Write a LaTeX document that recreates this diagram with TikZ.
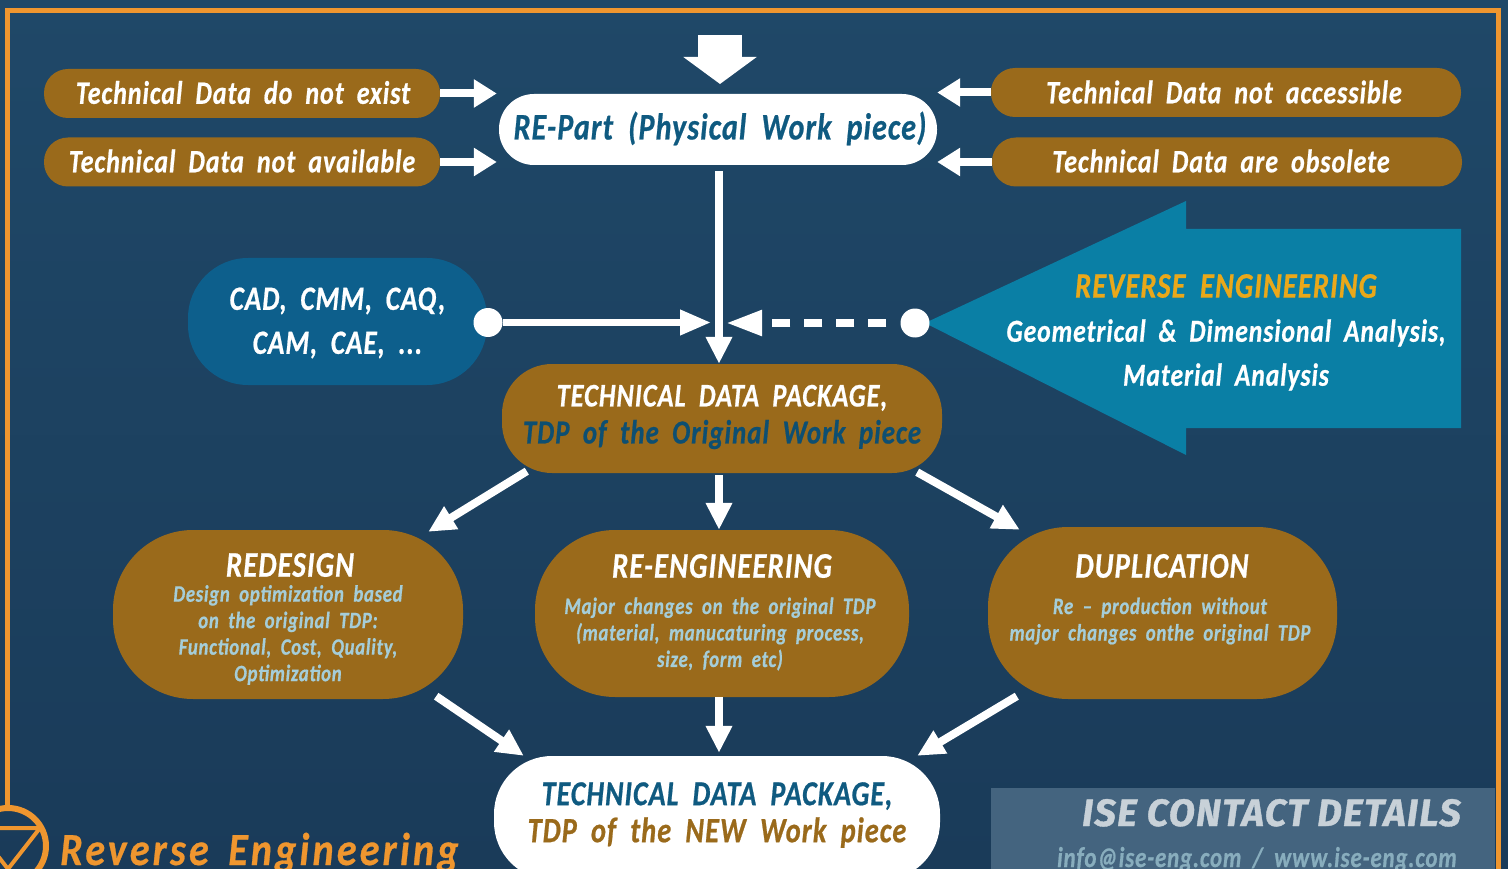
\documentclass[tikz,border=0pt]{standalone}
\usepackage{fontspec}
\usetikzlibrary{arrows.meta,shapes.geometric}
\newfontfamily\dgfont[LetterSpace=3,WordSpace=1.9,FakeStretch=0.8,FakeBold=0.6]{Carlito}
\newfontfamily\brandfont[LetterSpace=7,WordSpace=1.6,FakeStretch=0.87,FakeBold=0.6]{Carlito}
\newfontfamily\headfont[LetterSpace=3.5,FakeBold=1]{Fira Sans}
\newcommand{\dgf}[1]{\fontsize{#1}{#1}\selectfont\dgfont\bfseries\itshape}
\definecolor{bgtop}{HTML}{1F4868}
\definecolor{bgmid}{HTML}{1C3F5E}
\definecolor{bgbot}{HTML}{1A3B59}
\definecolor{brownbox}{HTML}{9A6A1B}
\definecolor{navytxt}{HTML}{0F5A80}
\definecolor{tealtxt}{HTML}{0D4F72}
\definecolor{subtxt}{HTML}{A5CDD8}
\definecolor{framec}{HTML}{EF962F}
\definecolor{yellowt}{HTML}{E9A81A}
\definecolor{cadc}{HTML}{0D5F8C}
\definecolor{bigarrow}{HTML}{0A7FA5}
\definecolor{contactc}{HTML}{44647F}
\tikzset{
  pill/.style={fill=brownbox,inner sep=0pt,text=white,align=center},
  smallpill/.style={pill,minimum height=49pt,rounded corners=24pt},
  pilltext/.style={text=white,inner sep=0pt,font=\dgf{32.5}},
  bigpill/.style={pill,minimum width=350pt,rounded corners=80pt},
  titletext/.style={text=white,font=\dgf{36},inner sep=0pt},
  subtext/.style={text=subtxt,font=\dgf{23.5},align=center,inner sep=0pt},
  fatarrow/.style={draw=white,line width=8pt,-{Triangle[width=25pt,length=27pt]}},
  sidearrow/.style={draw=white,line width=8pt,-{Triangle[width=27pt,length=23pt]},shorten >=2pt},
  dotnode/.style={circle,fill=white,minimum size=29pt,inner sep=0pt},
}
\begin{document}
\begin{tikzpicture}[x=1pt,y=-1pt]
\path[use as bounding box,clip] (0,0) rectangle (1508,869);
\fill[top color=bgtop,middle color=bgmid,bottom color=bgbot] (0,0) rectangle (1508,869);
% frame
\draw[framec,line width=5pt] (7,810) -- (7,11) -- (1498,11) -- (1498,869);
% logo
\draw[framec,line width=6pt] (8,846) circle (38);
\draw[framec,line width=4pt,line join=round] (-24,828) -- (40,828) -- (8,869) -- cycle;
\node[anchor=base west,inner sep=0pt,text=framec,font=\fontsize{46}{46}\selectfont\brandfont\bfseries\itshape] (title) at (60,865) {Reverse Engineering};
% contact box
\fill[contactc] (991,788) rectangle (1495,869);
\node[anchor=base east,inner sep=0pt,text=white!76!bgmid,font=\fontsize{38}{38}\selectfont\headfont\bfseries\itshape] (contact) at (1461,826) {ISE CONTACT DETAILS};
\node[anchor=base east,inner sep=0pt,text=subtxt!70!contactc,font=\dgf{28.6}] (mail) at (1457,867) {info@ise-eng.com / www.ise-eng.com};
% left and right pills
\node[smallpill,minimum width=396pt] (exist) at (242,93.5) {};
\node[pilltext] (existt) at (243,92.5) {Technical Data do not exist};
\node[smallpill,minimum width=396pt] (avail) at (242,162) {};
\node[pilltext] (availt) at (242,161) {Technical Data not available};
\node[smallpill,minimum width=470pt] (access) at (1226,92.5) {};
\node[pilltext] (accesst) at (1224,92) {Technical Data not accessible};
\node[smallpill,minimum width=470pt] (obs) at (1227,162) {};
\node[pilltext] (obst) at (1221,161) {Technical Data are obsolete};
% RE part
\node[fill=white,minimum width=438pt,minimum height=71pt,rounded corners=35pt,inner sep=0pt] (part) at (718,129.5) {};
\node[text=navytxt,inner sep=0pt,font=\dgf{37.5}] (partt) at (720,128.5) {RE-Part (Physical Work piece)};
% CAD
\node[fill=cadc,minimum width=299pt,minimum height=127pt,rounded corners=60pt,inner sep=0pt] (cad) at (337.5,321.5) {};
\node[text=white,inner sep=0pt,align=center,font=\dgf{34}] (cadt) at (337.5,323) {CAD, CMM, CAQ,\\[10pt]CAM, CAE, ...};
% Big arrow
\fill[bigarrow] (925,323) -- (1186,201) -- (1186,229) -- (1461,229) -- (1461,428) -- (1186,428) -- (1186,455) -- cycle;
\node[text=yellowt,inner sep=0pt,font=\dgf{35.8}] (retitle) at (1226,286) {REVERSE ENGINEERING};
\node[text=white,inner sep=0pt,align=center,font=\dgf{32}] (retext) at (1226,355) {Geometrical \& Dimensional Analysis,\\[12pt]Material Analysis};
% TDP
\node[pill,minimum width=440pt,minimum height=109pt,rounded corners=50pt] (tdp) at (722,418.5) {};
\node[inner sep=0pt,align=center,text=white,font=\dgf{33}] (tdpt) at (722,417) {TECHNICAL DATA PACKAGE,\\[4pt]\textcolor{tealtxt}{\fontsize{33.6}{33.6}\selectfont TDP of the Original Work piece}};
% Three options
\node[bigpill,minimum height=169pt] (redesign) at (288,614.5) {};
\node[titletext] (redesignt) at (290,565) {REDESIGN};
\node[subtext] (redesigns) at (288,635) {Design optimization based\\[3pt]on the original TDP:\\[3pt]Functional, Cost, Quality,\\[3pt]Optimization};
\node[bigpill,minimum width=374pt,minimum height=167pt] (reeng) at (722,613.5) {};
\node[titletext] (reengt) at (722,566) {RE-ENGINEERING};
\node[subtext] (reengs) at (720,634) {Major changes on the original TDP\\[3pt](material, manucaturing process,\\[3pt]size, form etc)};
\node[bigpill,minimum width=349pt,minimum height=172pt] (dup) at (1162.5,613) {};
\node[titletext] (dupt) at (1162,566) {DUPLICATION};
\node[subtext] (dups) at (1160,621) {Re – production without\\[3pt]major changes onthe original TDP};
% New TDP
\node[fill=white,minimum width=446pt,minimum height=124pt,rounded corners=58pt,inner sep=0pt] (newtdp) at (717,818) {};
\node[inner sep=0pt,align=center,text=navytxt,font=\dgf{35}] (newtext) at (717,815) {TECHNICAL DATA PACKAGE,\\[2pt]\textcolor{brownbox}{\fontsize{35.5}{35.5}\selectfont TDP of the NEW Work piece}};
% Connectors
\coordinate (vx) at (719,0);
\coordinate (topa) at (720,35);
\draw[draw=white,line width=44pt,-{Triangle[width=72pt,length=27pt]}] (topa) -- (720,84);
\draw[sidearrow] (exist.east) -- (exist.east -| part.west);
\draw[sidearrow] (avail.east) -- (avail.east -| part.west);
\draw[sidearrow,shorten >=0pt] (access.west) -- (access.west -| part.east);
\draw[sidearrow,shorten >=0pt] (obs.west) -- (obs.west -| part.east);
\draw[fatarrow,shorten <=6pt] (vx |- part.south) -- (vx |- tdp.north);
\node[dotnode] (dotl) at (488,322.5) {};
\node[dotnode] (dotr) at (915,323) {};
\draw[draw=white,line width=7pt,-{Triangle[width=24pt,length=31pt]},shorten >=8pt] (dotl) -- (dotl -| vx);
\draw[draw=white,line width=8pt,dash pattern=on 18pt off 14pt,-{Triangle[width=24pt,length=36pt,sep=0pt]},shorten >=7pt,shorten <=14pt] (dotr) -- (dotr -| vx);
\draw[fatarrow] ([xshift=25pt,yshift=2pt]tdp.south west) -- ([xshift=-35pt,yshift=-2pt]redesign.north east);
\draw[fatarrow,shorten <=2pt] (vx |- tdp.south) -- (vx |- reeng.north);
\draw[fatarrow] ([xshift=-25pt,yshift=1pt]tdp.south east) -- ([xshift=32pt,yshift=-3pt]dup.north west);
\draw[fatarrow] ([xshift=-27pt,yshift=3pt]redesign.south east) -- ([xshift=30pt]newtdp.north west);
\draw[fatarrow] (vx |- reeng.south) -- ([yshift=3pt]vx |- newtdp.north);
\draw[fatarrow] ([xshift=29pt,yshift=3pt]dup.south west) -- ([xshift=-23pt]newtdp.north east);
\end{tikzpicture}
\end{document}
